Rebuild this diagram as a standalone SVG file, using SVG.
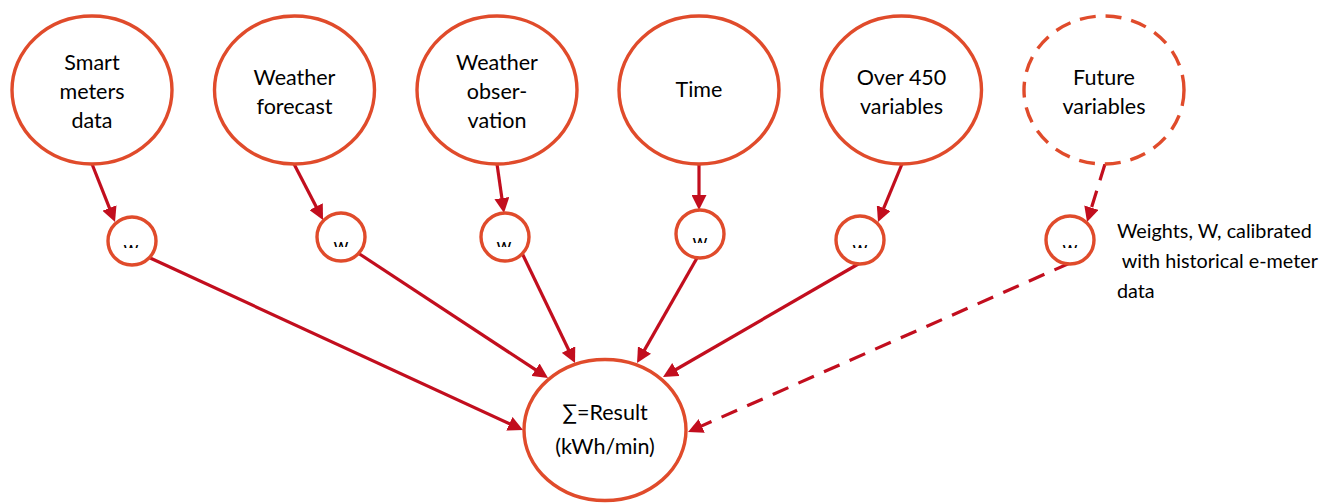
<svg xmlns="http://www.w3.org/2000/svg" width="1320" height="504" viewBox="0 0 1320 504">
<style>
.node{fill:#fff;stroke:#E04B2B;stroke-width:3.4}
.dashed{stroke-dasharray:16 10}
.lbl{font-family:Lato,"Open Sans","DejaVu Sans",sans-serif;font-size:21.5px;fill:#000;text-anchor:middle}
.w{font-family:Lato,"Open Sans",sans-serif;font-size:19px;fill:#000;text-anchor:middle}
.note{font-family:Lato,"Open Sans",sans-serif;font-size:19.8px;fill:#000}
.conn{stroke:#C20E1E;stroke-width:3.2;fill:none;marker-end:url(#arr)}
.cdash{stroke-dasharray:17 11}
</style>
<defs>
<marker id="arr" markerUnits="userSpaceOnUse" markerWidth="16" markerHeight="15" refX="3" refY="7.5" orient="auto">
<path d="M0,0 L15,7.5 L0,15 Z" fill="#C20E1E"/>
</marker>
<clipPath id="k1"><rect x="110" y="245" width="44" height="3"/></clipPath>
<clipPath id="k2"><rect x="319" y="241.5" width="44" height="5.5"/></clipPath>
<clipPath id="k3"><rect x="482" y="241.5" width="44" height="5.5"/></clipPath>
<clipPath id="k4"><rect x="678" y="238" width="44" height="5"/></clipPath>
<clipPath id="k5"><rect x="838" y="245" width="44" height="3"/></clipPath>
<clipPath id="k6"><rect x="1048" y="245" width="44" height="3"/></clipPath>
</defs>

<g id="connectors">
<line class="conn" x1="92" y1="164" x2="110.6" y2="210.8"/>
<line class="conn" x1="294" y1="164" x2="317.5" y2="209.3"/>
<line class="conn" x1="497" y1="164" x2="502.3" y2="201.1"/>
<line class="conn" x1="699" y1="164" x2="699" y2="198"/>
<line class="conn" x1="902" y1="164" x2="882.6" y2="210.9"/>
<line class="conn cdash" x1="1105" y1="164" x2="1090.6" y2="210.5"/>
<line class="conn" x1="148" y1="257" x2="512.1" y2="425"/>
<line class="conn" x1="358" y1="253" x2="538" y2="371.4"/>
<line class="conn" x1="522" y1="253" x2="569.8" y2="352.2"/>
<line class="conn" x1="697" y1="258" x2="643" y2="352.6"/>
<line class="conn" x1="860" y1="263" x2="673.4" y2="371"/>
<line class="conn cdash" x1="1070" y1="263" x2="699" y2="427.1"/>
</g>

<g id="smart-meters">
<ellipse class="node" cx="92" cy="90" rx="80" ry="74"/>
<text class="lbl" x="92" y="70">Smart</text>
<text class="lbl" x="92" y="99">meters</text>
<text class="lbl" x="92" y="128">data</text>
</g>
<g id="weather-forecast">
<ellipse class="node" cx="294.5" cy="90" rx="80" ry="74"/>
<text class="lbl" x="294.5" y="85">Weather</text>
<text class="lbl" x="294.5" y="114">forecast</text>
</g>
<g id="weather-observation">
<ellipse class="node" cx="497" cy="90" rx="80" ry="74"/>
<text class="lbl" x="497" y="70">Weather</text>
<text class="lbl" x="497" y="99">obser-</text>
<text class="lbl" x="497" y="128">vation</text>
</g>
<g id="time">
<ellipse class="node" cx="699" cy="90" rx="80" ry="74"/>
<text class="lbl" x="699" y="97">Time</text>
</g>
<g id="over-450">
<ellipse class="node" cx="901.5" cy="90" rx="80" ry="74"/>
<text class="lbl" x="901.5" y="85">Over 450</text>
<text class="lbl" x="901.5" y="114">variables</text>
</g>
<g id="future-variables">
<ellipse class="node dashed" cx="1104" cy="90" rx="80" ry="74"/>
<text class="lbl" x="1104" y="85">Future</text>
<text class="lbl" x="1104" y="114">variables</text>
</g>

<g id="w1">
<circle class="node" cx="132" cy="241" r="24"/>
<text class="w" x="131" y="255" clip-path="url(#k1)">w</text>
</g>
<g id="w2">
<circle class="node" cx="341" cy="237" r="24"/>
<text class="w" x="341" y="251.5" clip-path="url(#k2)">w</text>
</g>
<g id="w3">
<circle class="node" cx="505" cy="237" r="24"/>
<text class="w" x="504" y="251.5" clip-path="url(#k3)">w</text>
</g>
<g id="w4">
<circle class="node" cx="700" cy="234" r="24"/>
<text class="w" x="700" y="247.5" clip-path="url(#k4)">w</text>
</g>
<g id="w5">
<circle class="node" cx="860" cy="240" r="24"/>
<text class="w" x="860" y="254.5" clip-path="url(#k5)">w</text>
</g>
<g id="w6">
<circle class="node" cx="1070" cy="240" r="24"/>
<text class="w" x="1070" y="254.5" clip-path="url(#k6)">w</text>
</g>

<g id="result">
<ellipse class="node" cx="605" cy="430" rx="81" ry="70.5"/>
<text class="lbl" x="605" y="420">∑=Result</text>
<text class="lbl" x="605" y="454">(kWh/min)</text>
</g>

<g id="weights-note">
<text class="note" x="1117" y="238">Weights, W, calibrated</text>
<text class="note" x="1117" y="268" xml:space="preserve"> with historical e-meter</text>
<text class="note" x="1117" y="298">data</text>
</g>
</svg>
